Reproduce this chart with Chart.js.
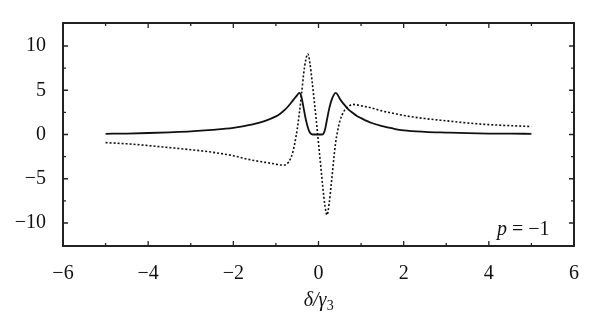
<!DOCTYPE html>
<html>
<head>
<meta charset="utf-8">
<script src="https://cdn.jsdelivr.net/npm/chart.js@4.4.1/dist/chart.umd.min.js"></script>
<style>
  html, body { margin: 0; padding: 0; background: #fff; }
  #wrap { width: 600px; height: 328px; }
</style>
</head>
<body>
<div id="wrap"><canvas id="c" width="600" height="328"></canvas></div>
<script>
// ---- data ----
const xs = [-5, -4.5, -4, -3.5, -3, -2.5, -2, -1.75, -1.5, -1.25, -1, -0.9, -0.8, -0.7, -0.6, -0.55, -0.5, -0.45, -0.4, -0.35, -0.3, -0.25, -0.2, -0.15, -0.1, -0.05, 0, 0.05, 0.1, 0.15, 0.2, 0.25, 0.3, 0.35, 0.4, 0.45, 0.5, 0.6, 0.7, 0.8, 0.9, 1.0, 1.25, 1.5, 1.75, 2, 2.5, 3, 3.5, 4, 4.5, 5];
const solidY = [0.08, 0.11, 0.17, 0.25, 0.35, 0.52, 0.75, 0.95, 1.2, 1.55, 2.05, 2.35, 2.75, 3.25, 3.85, 4.15, 4.45, 4.7, 4.25, 3.0, 1.75, 0.8, 0.2, 0.02, 0, 0, 0, 0, 0.02, 0.5, 1.7, 2.9, 3.8, 4.4, 4.7, 4.5, 4.05, 3.4, 2.85, 2.45, 2.1, 1.85, 1.3, 0.95, 0.68, 0.47, 0.3, 0.22, 0.15, 0.11, 0.09, 0.08];
const dottedY = [-0.92, -1.05, -1.25, -1.48, -1.72, -2.0, -2.4, -2.7, -2.95, -3.15, -3.35, -3.45, -3.45, -3.1, -1.95, -0.8, 0.6, 2.4, 4.5, 6.8, 8.4, 9.1, 8.0, 6.0, 3.8, 1.5, -1.0, -3.4, -5.9, -8.0, -9.1, -7.8, -5.6, -3.2, -1.0, 0.4, 1.5, 2.65, 3.15, 3.4, 3.35, 3.25, 3.0, 2.65, 2.4, 2.15, 1.8, 1.55, 1.3, 1.12, 1.0, 0.9];
const xMajor = [-6, -4, -2, 0, 2, 4, 6];
const xMinor = [-5, -3, -1, 1, 3, 5];
const yMajor = [-10, -5, 0, 5, 10];
const yMinor = [-7.5, -2.5, 2.5, 7.5];
const xTitle = ['δ/γ', '3'];
const annot = ['p', ' = −1'];

const SERIF = '"Liberation Serif", "DejaVu Serif", serif';
const fmt = v => (v < 0 ? '\u2212' + Math.abs(v) : String(v));

const frame = {
  id: 'frame',
  afterDraw(chart) {
    const ctx = chart.ctx, a = chart.chartArea;
    const xs_ = chart.scales.x, ys_ = chart.scales.y;
    ctx.save();
    ctx.strokeStyle = '#222';
    ctx.lineWidth = 2;
    ctx.strokeRect(a.left, a.top, a.right - a.left, a.bottom - a.top);
    ctx.lineWidth = 1.3;
    ctx.beginPath();
    const tick = (vals, len) => {
      vals.forEach(v => {
        const px = xs_.getPixelForValue(v);
        ctx.moveTo(px, a.bottom); ctx.lineTo(px, a.bottom - len);
        ctx.moveTo(px, a.top); ctx.lineTo(px, a.top + len);
      });
    };
    const tickY = (vals, len) => {
      vals.forEach(v => {
        const py = ys_.getPixelForValue(v);
        ctx.moveTo(a.left, py); ctx.lineTo(a.left + len, py);
        ctx.moveTo(a.right, py); ctx.lineTo(a.right - len, py);
      });
    };
    tick(xMajor, 5); tick(xMinor, 3);
    tickY(yMajor, 5); tickY(yMinor, 3);
    ctx.stroke();

    // axis title
    ctx.fillStyle = '#111';
    ctx.textBaseline = 'alphabetic';
    ctx.font = 'italic 20px ' + SERIF;
    const w1 = ctx.measureText(xTitle[0]).width;
    ctx.font = '14px ' + SERIF;
    const w2 = ctx.measureText(xTitle[1]).width;
    const cx = (a.left + a.right) / 2;
    let sx = cx - (w1 + w2) / 2;
    ctx.font = 'italic 20px ' + SERIF;
    ctx.fillText(xTitle[0], sx, 306);
    ctx.font = '14px ' + SERIF;
    ctx.fillText(xTitle[1], sx + w1 + 0.5, 310);

    // p = -1 annotation
    ctx.font = 'italic 20px ' + SERIF;
    const pw = ctx.measureText(annot[0]).width;
    ctx.fillText(annot[0], 497, 235);
    ctx.font = '20px ' + SERIF;
    ctx.fillText(annot[1], 497 + pw, 235);
    ctx.restore();
  }
};

new Chart(document.getElementById('c'), {
  type: 'line',
  data: {
    datasets: [
      {
        data: xs.map((x, i) => ({ x, y: solidY[i] })),
        borderColor: '#111',
        borderWidth: 1.8,
        pointRadius: 0,
        cubicInterpolationMode: 'monotone',
        fill: false
      },
      {
        data: xs.map((x, i) => ({ x, y: dottedY[i] })),
        borderColor: '#111',
        borderWidth: 1.6,
        borderDash: [2, 2],
        pointRadius: 0,
        cubicInterpolationMode: 'monotone',
        fill: false
      }
    ]
  },
  options: {
    responsive: false,
    animation: false,
    devicePixelRatio: 1,
    layout: { padding: { left: 0, top: 23, right: 26, bottom: 0 } },
    plugins: { legend: { display: false }, tooltip: { enabled: false } },
    scales: {
      x: {
        type: 'linear',
        min: -6, max: 6,
        grid: { display: false },
        border: { display: false },
        afterBuildTicks: s => { s.ticks = xMajor.map(v => ({ value: v })); },
        afterFit: s => { s.height = 82; },
        ticks: {
          padding: 8,
          color: '#111',
          font: { family: SERIF, size: 20 },
          maxRotation: 0,
          autoSkip: false,
          callback: v => fmt(v)
        }
      },
      y: {
        min: -12.6, max: 12.6,
        grid: { display: false },
        border: { display: false },
        afterBuildTicks: s => { s.ticks = yMajor.map(v => ({ value: v })); },
        afterFit: s => { s.width = 63; },
        ticks: {
          padding: 9,
          color: '#111',
          font: { family: SERIF, size: 20 },
          autoSkip: false,
          callback: v => fmt(v)
        }
      }
    }
  },
  plugins: [frame]
});
</script>
</body>
</html>
